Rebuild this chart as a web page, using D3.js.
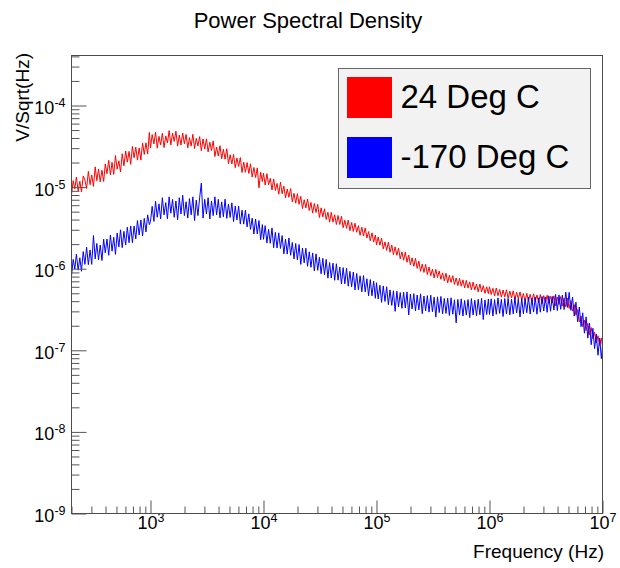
<!DOCTYPE html>
<html>
<head>
<meta charset="utf-8">
<script src="https://cdn.jsdelivr.net/npm/d3@7"></script>
<style>
  body { margin: 0; background: #fff; }
  svg { font-family: "Liberation Sans", Arial, Helvetica, sans-serif; }
</style>
</head>
<body>
<script>
// frequency grid (Hz)
const freq = [
  200, 207, 214, 221, 229, 237, 245, 254, 263, 272, 282, 292, 302, 313, 324, 335, 347, 359, 372, 385, 398, 412, 427, 442, 457, 473, 490, 507, 525, 543, 562, 582, 603, 624, 646, 668, 692, 716, 741, 767, 794, 822, 851, 881, 912, 944, 977,
  1000, 1035, 1072, 1109, 1148, 1189, 1230, 1274, 1318, 1365, 1413, 1462, 1514, 1567, 1622, 1679, 1738, 1799, 1862, 1928, 1995, 2065, 2138, 2213, 2291, 2371, 2455, 2541, 2630, 2723, 2818, 2917, 3020, 3126, 3236, 3350, 3467, 3589, 3715, 3846, 3981, 4121, 4266, 4416, 4571, 4732, 4898, 5070, 5248, 5433, 5623, 5821, 6026, 6237, 6457, 6683, 6918, 7161, 7413, 7674, 7943, 8222, 8511, 8810, 9120, 9441, 9772,
  1.000e4, 1.035e4, 1.072e4, 1.109e4, 1.148e4, 1.189e4, 1.230e4, 1.274e4, 1.318e4, 1.365e4, 1.413e4, 1.462e4, 1.514e4, 1.567e4, 1.622e4, 1.679e4, 1.738e4, 1.799e4, 1.862e4, 1.928e4, 1.995e4, 2.065e4, 2.138e4, 2.213e4, 2.291e4, 2.371e4, 2.455e4, 2.541e4, 2.630e4, 2.723e4, 2.818e4, 2.917e4, 3.020e4, 3.126e4, 3.236e4, 3.350e4, 3.467e4, 3.589e4, 3.715e4, 3.846e4, 3.981e4, 4.121e4, 4.266e4, 4.416e4, 4.571e4, 4.732e4, 4.898e4, 5.070e4, 5.248e4, 5.433e4, 5.623e4, 5.821e4, 6.026e4, 6.237e4, 6.457e4, 6.683e4, 6.918e4, 7.161e4, 7.413e4, 7.674e4, 7.943e4, 8.222e4, 8.511e4, 8.810e4, 9.120e4, 9.441e4, 9.772e4,
  1.000e5, 1.035e5, 1.072e5, 1.109e5, 1.148e5, 1.189e5, 1.230e5, 1.274e5, 1.318e5, 1.365e5, 1.413e5, 1.462e5, 1.514e5, 1.567e5, 1.622e5, 1.679e5, 1.738e5, 1.799e5, 1.862e5, 1.928e5, 1.995e5, 2.065e5, 2.138e5, 2.213e5, 2.291e5, 2.371e5, 2.455e5, 2.541e5, 2.630e5, 2.723e5, 2.818e5, 2.917e5, 3.020e5, 3.126e5, 3.236e5, 3.350e5, 3.467e5, 3.589e5, 3.715e5, 3.846e5, 3.981e5, 4.121e5, 4.266e5, 4.416e5, 4.571e5, 4.732e5, 4.898e5, 5.070e5, 5.248e5, 5.433e5, 5.623e5, 5.821e5, 6.026e5, 6.237e5, 6.457e5, 6.683e5, 6.918e5, 7.161e5, 7.413e5, 7.674e5, 7.943e5, 8.222e5, 8.511e5, 8.810e5, 9.120e5, 9.441e5, 9.772e5,
  1.000e6, 1.035e6, 1.072e6, 1.109e6, 1.148e6, 1.189e6, 1.230e6, 1.274e6, 1.318e6, 1.365e6, 1.413e6, 1.462e6, 1.514e6, 1.567e6, 1.622e6, 1.679e6, 1.738e6, 1.799e6, 1.862e6, 1.928e6, 1.995e6, 2.065e6, 2.138e6, 2.213e6, 2.291e6, 2.371e6, 2.455e6, 2.541e6, 2.630e6, 2.723e6, 2.818e6, 2.917e6, 3.020e6, 3.126e6, 3.236e6, 3.350e6, 3.467e6, 3.589e6, 3.715e6, 3.846e6, 3.981e6, 4.121e6, 4.266e6, 4.416e6, 4.571e6, 4.732e6, 4.898e6, 5.070e6, 5.248e6, 5.433e6, 5.623e6, 5.821e6, 6.026e6, 6.237e6, 6.457e6, 6.683e6, 6.918e6, 7.161e6, 7.413e6, 7.674e6, 7.943e6, 8.222e6, 8.511e6, 8.810e6, 9.120e6, 9.441e6, 9.772e6,
  1e7
];

// 24 Deg C (V/sqrt(Hz))
const psdWarm = [
  8.1e-6, 1.2e-5, 9.5e-6, 1.33e-5, 9.0e-6, 1.18e-5, 8.7e-6, 1.37e-5, 1.22e-5, 9.6e-6, 1.56e-5, 1.07e-5, 1.41e-5, 1.02e-5, 1.77e-5, 1.2e-5, 1.67e-5, 1.16e-5, 1.61e-5, 1.17e-5, 1.92e-5, 1.46e-5, 2.13e-5, 1.41e-5, 2.01e-5, 1.43e-5, 2.44e-5, 1.66e-5, 2.1e-5, 1.53e-5, 2.56e-5, 1.82e-5, 2.77e-5, 2.02e-5, 2.74e-5, 1.9e-5, 3.15e-5, 2.29e-5, 3.08e-5, 2.14e-5, 3.02e-5, 2.14e-5, 3.48e-5, 2.52e-5, 3.49e-5, 2.54e-5, 4.68e-5,
  3.02e-5, 4.4e-5, 3.38e-5, 4.71e-5, 3.0e-5, 4.19e-5, 3.29e-5, 4.58e-5, 3.05e-5, 4.24e-5, 3.47e-5, 4.93e-5, 3.29e-5, 4.57e-5, 3.62e-5, 4.85e-5, 3.18e-5, 4.35e-5, 3.28e-5, 4.6e-5, 3.39e-5, 4.42e-5, 3.03e-5, 4.04e-5, 3.18e-5, 4.44e-5, 2.97e-5, 3.96e-5, 3.19e-5, 4.16e-5, 2.79e-5, 3.89e-5, 2.92e-5, 3.9e-5, 2.7e-5, 3.55e-5, 2.81e-5, 3.68e-5, 2.37e-5, 3.1e-5, 2.4e-5, 3.22e-5, 2.22e-5, 2.91e-5, 2.2e-5, 2.95e-5, 1.94e-5, 2.49e-5, 1.92e-5, 2.52e-5, 1.73e-5, 2.27e-5, 1.79e-5, 2.3e-5, 1.51e-5, 2.02e-5, 1.52e-5, 2.0e-5, 1.47e-5, 1.93e-5, 1.33e-5, 1.74e-5, 1.31e-5, 1.72e-5, 9.8e-6, 1.52e-5, 1.17e-5,
  1.48e-5, 1.06e-5, 1.46e-5, 1.07e-5, 1.28e-5, 9.2e-6, 1.26e-5, 9.1e-6, 1.11e-5, 8.2e-6, 1.15e-5, 8.3e-6, 1.03e-5, 7.4e-6, 9.5e-6, 7.5e-6, 9.6e-6, 6.6e-6, 8.4e-6, 6.35e-6, 8.3e-6, 6.15e-6, 7.7e-6, 5.46e-6, 7.0e-6, 5.56e-6, 7.15e-6, 5.16e-6, 6.5e-6, 4.8e-6, 6.3e-6, 4.89e-6, 6.14e-6, 4.24e-6, 5.57e-6, 4.31e-6, 5.42e-6, 4.01e-6, 4.92e-6, 3.72e-6, 4.9e-6, 3.72e-6, 4.58e-6, 3.48e-6, 4.49e-6, 3.48e-6, 4.4e-6, 3.18e-6, 3.93e-6, 3.12e-6, 3.94e-6, 2.92e-6, 3.68e-6, 2.86e-6, 3.61e-6, 2.8e-6, 3.37e-6, 2.56e-6, 3.23e-6, 2.51e-6, 3.16e-6, 2.38e-6, 2.85e-6, 2.2e-6, 2.75e-6, 2.12e-6, 2.59e-6,
  1.96e-6, 2.45e-6, 1.94e-6, 2.37e-6, 1.75e-6, 2.13e-6, 1.68e-6, 2.11e-6, 1.59e-6, 1.95e-6, 1.48e-6, 1.85e-6, 1.46e-6, 1.79e-6, 1.32e-6, 1.61e-6, 1.27e-6, 1.6e-6, 1.2e-6, 1.47e-6, 1.11e-6, 1.36e-6, 1.07e-6, 1.34e-6, 1.01e-6, 1.24e-6, 9.3e-7, 1.14e-6, 9.0e-7, 1.13e-6, 8.5e-7, 1.05e-6, 8.2e-7, 9.9e-7, 7.7e-7, 9.8e-7, 7.8e-7, 9.4e-7, 7.4e-7, 8.9e-7, 7.1e-7, 8.8e-7, 6.7e-7, 8.3e-7, 6.8e-7, 8.2e-7, 6.4e-7, 7.7e-7, 6.2e-7, 7.6e-7, 6.1e-7, 7.3e-7, 5.8e-7, 7.2e-7, 5.8e-7, 6.9e-7, 5.5e-7, 6.85e-7, 5.5e-7, 6.5e-7, 5.2e-7, 6.5e-7, 5.2e-7, 6.2e-7, 5.0e-7, 6.0e-7, 4.95e-7,
  6.0e-7, 4.83e-7, 5.75e-7, 4.63e-7, 5.8e-7, 4.67e-7, 5.57e-7, 4.49e-7, 5.48e-7, 4.52e-7, 5.52e-7, 4.35e-7, 5.31e-7, 4.38e-7, 5.35e-7, 4.2e-7, 5.14e-7, 4.24e-7, 5.18e-7, 4.17e-7, 4.98e-7, 4.01e-7, 5.0e-7, 4.06e-7, 4.85e-7, 3.93e-7, 4.92e-7, 3.98e-7, 4.76e-7, 3.85e-7, 4.83e-7, 3.73e-7, 4.68e-7, 3.87e-7, 4.73e-7, 3.74e-7, 4.58e-7, 3.79e-7, 4.65e-7, 3.51e-7, 4.5e-7, 3.64e-7, 4.55e-7, 3.49e-7, 4.35e-7, 3.41e-7, 4.35e-7, 3.26e-7, 4.07e-7, 3.02e-7, 3.63e-7, 2.69e-7, 3.16e-7, 2.24e-7, 2.63e-7, 1.95e-7, 2.34e-7, 1.74e-7, 2.14e-7, 1.55e-7, 1.9e-7, 1.38e-7, 1.66e-7, 1.23e-7, 1.51e-7, 1.15e-7, 1.41e-7,
  1.12e-7
];

// -170 Deg C (V/sqrt(Hz))
const psdCold = [
  8.1e-7, 1.3e-6, 9.9e-7, 1.51e-6, 9.6e-7, 1.36e-6, 9.3e-7, 1.62e-6, 1.13e-6, 1.84e-6, 1.12e-6, 1.7e-6, 1.13e-6, 2.55e-6, 1.32e-6, 2.04e-6, 1.29e-6, 1.95e-6, 1.26e-6, 2.3e-6, 1.56e-6, 2.31e-6, 1.46e-6, 2.59e-6, 1.64e-6, 2.43e-6, 1.5e-6, 2.73e-6, 1.85e-6, 3.0e-6, 1.81e-6, 2.87e-6, 1.95e-6, 3.23e-6, 2.08e-6, 3.34e-6, 2.08e-6, 3.33e-6, 2.32e-6, 3.89e-6, 2.59e-6, 3.96e-6, 2.52e-6, 4.14e-6, 2.82e-6, 4.57e-6, 3.47e-6,
  3.8e-6, 5.82e-6, 3.8e-6, 6.68e-6, 4.27e-6, 6.24e-6, 4.07e-6, 7.41e-6, 4.57e-6, 6.46e-6, 4.07e-6, 7.59e-6, 4.79e-6, 7.08e-6, 4.27e-6, 6.76e-6, 3.98e-6, 7.41e-6, 4.68e-6, 7.94e-6, 4.47e-6, 6.61e-6, 4.17e-6, 7.24e-6, 4.57e-6, 7.59e-6, 3.89e-6, 6.92e-6, 4.47e-6, 7.41e-6, 1.12e-5, 4.17e-6, 7.08e-6, 4.68e-6, 7.41e-6, 4.07e-6, 6.76e-6, 4.47e-6, 7.59e-6, 4.57e-6, 7.08e-6, 4.2e-6, 6.59e-6, 4.33e-6, 7.11e-6, 4.14e-6, 6.21e-6, 4.24e-6, 6.41e-6, 3.78e-6, 5.85e-6, 3.95e-6, 5.85e-6, 3.52e-6, 5.21e-6, 3.52e-6, 5.21e-6, 3.26e-6, 4.7e-6, 3.03e-6, 4.17e-6, 2.66e-6, 4.07e-6, 2.66e-6, 3.89e-6, 2.26e-6, 3.47e-6,
  2.29e-6, 3.37e-6, 2.07e-6, 3.04e-6, 2.05e-6, 3.16e-6, 1.81e-6, 2.79e-6, 1.79e-6, 2.75e-6, 1.77e-6, 2.55e-6, 1.52e-6, 2.3e-6, 1.51e-6, 2.38e-6, 1.46e-6, 2.1e-6, 1.32e-6, 2.04e-6, 1.28e-6, 1.98e-6, 1.13e-6, 1.79e-6, 1.18e-6, 1.78e-6, 1.07e-6, 1.61e-6, 1.04e-6, 1.56e-6, 9.4e-7, 1.52e-6, 9.55e-7, 1.38e-6, 8.65e-7, 1.34e-6, 8.4e-7, 1.3e-6, 7.66e-7, 1.19e-6, 7.69e-7, 1.17e-6, 7.21e-7, 1.15e-6, 7.24e-7, 1.05e-6, 6.49e-7, 1.03e-6, 6.52e-7, 1.01e-6, 6.11e-7, 9.27e-7, 6.0e-7, 9.1e-7, 5.5e-7, 8.73e-7, 5.52e-7, 8.18e-7, 5.2e-7, 8.24e-7, 5.2e-7, 7.53e-7, 4.65e-7, 7.36e-7, 4.65e-7, 7.03e-7, 4.34e-7,
  6.73e-7, 4.25e-7, 6.28e-7, 3.87e-7, 6.15e-7, 3.97e-7, 6.01e-7, 3.62e-7, 5.5e-7, 3.55e-7, 5.37e-7, 3.0e-7, 5.3e-7, 3.4e-7, 5.1e-7, 3.27e-7, 5.15e-7, 3.3e-7, 5.2e-7, 2.71e-7, 4.9e-7, 3.21e-7, 4.94e-7, 3.03e-7, 4.76e-7, 3.13e-7, 4.92e-7, 2.81e-7, 4.63e-7, 3.04e-7, 4.68e-7, 2.94e-7, 4.73e-7, 2.96e-7, 4.47e-7, 2.55e-7, 4.52e-7, 2.9e-7, 4.57e-7, 2.8e-7, 4.31e-7, 2.83e-7, 4.36e-7, 2.67e-7, 4.4e-7, 2.77e-7, 4.16e-7, 2.17e-7, 4.21e-7, 2.7e-7, 4.27e-7, 2.63e-7, 4.08e-7, 2.7e-7, 4.19e-7, 2.52e-7, 4.3e-7, 2.71e-7, 4.11e-7, 2.65e-7, 4.22e-7, 2.72e-7, 4.33e-7, 2.38e-7, 4.14e-7, 2.74e-7, 4.25e-7,
  2.75e-7, 4.27e-7, 2.63e-7, 4.18e-7, 2.76e-7, 4.39e-7, 2.83e-7, 4.2e-7, 2.59e-7, 4.31e-7, 2.78e-7, 4.32e-7, 2.72e-7, 4.23e-7, 2.79e-7, 4.43e-7, 2.86e-7, 4.24e-7, 2.56e-7, 4.35e-7, 2.81e-7, 4.26e-7, 2.88e-7, 4.49e-7, 2.78e-7, 4.33e-7, 2.94e-7, 4.47e-7, 2.77e-7, 4.4e-7, 2.93e-7, 4.56e-7, 3.03e-7, 4.5e-7, 2.92e-7, 4.65e-7, 3.01e-7, 4.58e-7, 3.11e-7, 4.84e-7, 3.07e-7, 4.78e-7, 3.18e-7, 4.74e-7, 3.16e-7, 5.16e-7, 3.36e-7, 5.13e-7, 3.09e-7, 4.47e-7, 2.63e-7, 3.89e-7, 2.24e-7, 3.39e-7, 1.95e-7, 2.88e-7, 1.62e-7, 2.57e-7, 1.41e-7, 2.14e-7, 1.17e-7, 1.86e-7, 1.05e-7, 1.58e-7, 8.7e-8, 1.41e-7, 7.9e-8,
  1.15e-7
];

const seriesNames = ['24 Deg C', '-170 Deg C'];
const seriesColors = ['#ff0000', '#0000ff'];
const xDomain = [200, 1e7];
const yDomain = [1e-9, 4.1e-4];

const width = 620, height = 568;
const padLeft = 71.5, padRight = 602.5, padTop = 55.5, padBottom = 513.5;

const svg = d3.select('body').append('svg')
    .attr('width', width)
    .attr('height', height);

const x = d3.scaleLog().domain(xDomain).range([padLeft, padRight]);
const y = d3.scaleLog().domain(yDomain).range([padBottom, padTop]);

const isDecade = v => Math.abs(Math.log10(v) - Math.round(Math.log10(v))) < 1e-9;

// title
svg.append('text')
    .attr('x', 308)
    .attr('y', 28)
    .attr('text-anchor', 'middle')
    .style('font-size', '22px')
    .text('Power Spectral Density');

// curves
svg.append('clipPath').attr('id', 'frame')
    .append('rect')
    .attr('x', padLeft).attr('y', padTop)
    .attr('width', padRight - padLeft).attr('height', padBottom - padTop);

const line = d3.line()
    .defined((d, i) => freq[i] !== undefined)
    .x((d, i) => x(freq[i]))
    .y(d => y(d));

const gLines = svg.append('g').attr('clip-path', 'url(#frame)');
[psdWarm, psdCold].forEach((s, i) => {
    gLines.append('path')
        .datum(s)
        .attr('fill', 'none')
        .attr('stroke', seriesColors[i])
        .attr('stroke-width', 1)
        .attr('d', line);
});

// axes
const tickColor = '#555';
const xTicks = x.ticks();
const yTicks = y.ticks();

function styleAxis(g) {
    g.select('.domain').remove();
    g.selectAll('.tick line').attr('stroke', tickColor);
}

function powLabels(g, dy, fontSize) {
    g.selectAll('.tick text')
        .attr('fill', '#000')
        .attr('dy', dy)
        .style('font-size', fontSize + 'px')
        .each(function (d) {
            const t = d3.select(this);
            t.text('10');
            t.append('tspan')
                .attr('dy', -7)
                .style('font-size', '12.5px')
                .text(Math.round(Math.log10(d)));
        });
}

svg.append('g')
    .attr('transform', `translate(0,${padBottom})`)
    .call(d3.axisBottom(x).tickValues(xTicks.filter(v => !isDecade(v))).tickSize(-7).tickFormat(''))
    .call(styleAxis);

svg.append('g')
    .attr('transform', `translate(0,${padBottom})`)
    .call(d3.axisBottom(x).tickValues(xTicks.filter(isDecade)).tickSize(-13).tickPadding(3))
    .call(styleAxis)
    .call(g => powLabels(g, '0.71em', 18));

svg.append('g')
    .attr('transform', `translate(${padLeft},0)`)
    .call(d3.axisLeft(y).tickValues(yTicks.filter(v => !isDecade(v))).tickSize(-8).tickFormat(''))
    .call(styleAxis);

svg.append('g')
    .attr('transform', `translate(${padLeft},0)`)
    .call(d3.axisLeft(y).tickValues(yTicks.filter(isDecade)).tickSize(-15).tickPadding(6))
    .call(styleAxis)
    .call(g => powLabels(g, '0.44em', 18));

// frame
svg.append('rect')
    .attr('x', padLeft).attr('y', padTop)
    .attr('width', padRight - padLeft).attr('height', padBottom - padTop)
    .attr('fill', 'none')
    .attr('stroke', '#4d4d4d');

// axis titles
svg.append('text')
    .attr('x', 604)
    .attr('y', 558)
    .attr('text-anchor', 'end')
    .style('font-size', '19px')
    .text('Frequency (Hz)');

svg.append('text')
    .attr('transform', 'translate(29,53) rotate(-90)')
    .attr('text-anchor', 'end')
    .style('font-size', '19px')
    .text('V/Sqrt(Hz)');

// legend
const legend = svg.append('g').attr('transform', 'translate(338.5,68.5)');
legend.append('rect')
    .attr('width', 252).attr('height', 120)
    .attr('fill', '#f2f2f2')
    .attr('stroke', '#666');

const rows = legend.selectAll('g.row')
    .data(seriesNames)
    .enter().append('g')
    .attr('class', 'row')
    .attr('transform', (d, i) => `translate(0,${i * 60})`);

rows.append('rect')
    .attr('x', 8.5).attr('y', 8.5)
    .attr('width', 45).attr('height', 41)
    .attr('fill', (d, i) => seriesColors[i]);

rows.append('text')
    .attr('x', 62)
    .attr('y', 39)
    .style('font-size', '33px')
    .text(d => d);
</script>
</body>
</html>
